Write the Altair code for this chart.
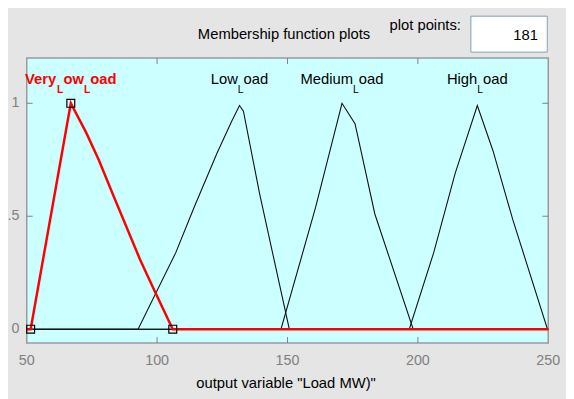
import altair as alt
import pandas as pd

# ---------------- data ----------------
mf_names = ["Very_Low_Load", "Low_Load", "Medium_Load", "High_Load"]

vl_x = [50, 51.5, 66.9, 72.8, 77.6, 83.3, 93.4, 99.0, 106, 250]
vl_y = [0, 0, 1.0, 0.87, 0.75, 0.59, 0.31, 0.17, 0, 0]

low_x = [50, 92.7, 107.2, 114.2, 123.0, 128.6, 131.6, 133.1, 139.3, 150.7, 250]
low_y = [0, 0, 0.34, 0.54, 0.78, 0.92, 0.99, 0.965, 0.60, 0, 0]

med_x = [50, 147.5, 160.8, 170.9, 175.9, 183.5, 198.2, 250]
med_y = [0, 0, 0.54, 1.0, 0.91, 0.51, 0, 0]

high_x = [50, 196.7, 206.1, 214.3, 222.8, 228.8, 236.4, 249.7, 250]
high_y = [0, 0, 0.34, 0.69, 0.99, 0.79, 0.485, 0, 0]

param_x = [51.5, 66.9, 106]
param_y = [0, 1, 0]

label_x = [66.9, 131.6, 170.9, 222.8]
label_y = 1.087

x_ticks = [50, 100, 150, 200, 250]
x_tick_labels = ["50", "100", "150", "200", "250"]
x_inner_ticks = [100, 150, 200]
y_ticks = [0, 0.5, 1]
y_tick_labels = ["0", ".5", "1"]

header_title = "Membership function plots"
plot_points_label = "plot points:"
plot_points_value = "181"
x_title = 'output variable "Load MW)"'

# ---------------- styling ----------------
FONT = "Liberation Sans, Arial, sans-serif"
BG = "#e5e5e5"
PLOT_BG = "#ccffff"
GRAY = "#808080"
W, H = 529, 289

xs = alt.Scale(domain=[50, 250], nice=False, zero=False)
ys = alt.Scale(domain=[-0.061, 1.2], nice=False, zero=False)
X = lambda: alt.X("x:Q", scale=xs, axis=None)
Y = lambda: alt.Y("y:Q", scale=ys, axis=None)

rows = []
for name, xx, yy in [("Low_Load", low_x, low_y), ("Medium_Load", med_x, med_y),
                     ("High_Load", high_x, high_y), ("Very_Low_Load", vl_x, vl_y)]:
    for i, (a, b) in enumerate(zip(xx, yy)):
        rows.append({"mf": name, "i": i, "x": a, "y": b})
df = pd.DataFrame(rows)

black_lines = alt.Chart(df[df.mf != "Very_Low_Load"]).mark_line(
    color="#111111", strokeWidth=1.1
).encode(x=X(), y=Y(), detail="mf:N", order="i:Q")

red_line = alt.Chart(df[df.mf == "Very_Low_Load"]).mark_line(
    color="#ff0000", strokeWidth=2.5
).encode(x=X(), y=Y(), order="i:Q")

params = alt.Chart(pd.DataFrame({"x": param_x, "y": param_y})).mark_point(
    shape="square", filled=False, size=64, color="#000000", strokeWidth=1.2, opacity=1
).encode(x=X(), y=Y())

# inner tick marks
xt = pd.DataFrame({"x": x_inner_ticks})
yt = pd.DataFrame({"y": y_ticks})
tick_layers = [
    alt.Chart(xt).mark_rule(color=GRAY).encode(x=X(), y=alt.value(0), y2=alt.value(6)),
    alt.Chart(xt).mark_rule(color=GRAY).encode(x=X(), y=alt.value(H), y2=alt.value(H - 6)),
    alt.Chart(yt).mark_rule(color=GRAY).encode(y=Y(), x=alt.value(0), x2=alt.value(6)),
    alt.Chart(yt).mark_rule(color=GRAY).encode(y=Y(), x=alt.value(W), x2=alt.value(W - 6)),
]

# tick labels
x_lab = alt.Chart(pd.DataFrame({"x": x_ticks, "t": x_tick_labels})).mark_text(
    font=FONT, fontSize=14.5, color=GRAY, align="center", baseline="middle"
).encode(x=X(), y=alt.value(H + 18), text="t:N")
y_lab = alt.Chart(pd.DataFrame({"y": y_ticks, "t": y_tick_labels})).mark_text(
    font=FONT, fontSize=14.5, color=GRAY, align="right", baseline="middle"
).encode(y=Y(), x=alt.value(-7.5), text="t:N")
x_tit = alt.Chart(pd.DataFrame({"t": [x_title]})).mark_text(
    font=FONT, fontSize=15, color="#000000", align="center", baseline="middle"
).encode(x=alt.value(263), y=alt.value(H + 41), text="t:N")

# ---------------- function labels with TeX-like subscripts ----------------
REG = {"V": .667, "e": .556, "r": .333, "y": .5, "L": .556, "o": .556, "w": .722, "a": .556,
       "d": .556, "M": .833, "i": .222, "u": .556, "m": .833, "H": .722, "g": .556, "h": .556}
BOLD = {"V": .667, "e": .556, "r": .389, "y": .556, "L": .611, "o": .611, "w": .778, "a": .556,
        "d": .611}
MAIN_SIZE, SUB_SIZE = 15, 10.5


def text_w(s, size, bold):
    tab = BOLD if bold else REG
    return sum(tab.get(c, .556) for c in s) * size


label_layers = []
for k, name in enumerate(mf_names):
    bold = k == 0
    color = "#ff0000" if k == 0 else "#000000"
    parts = name.split("_")
    pieces = [(parts[0], False)]
    for p in parts[1:]:
        pieces.append((p[0], True))
        pieces.append((p[1:], False))
    widths = [text_w(s, SUB_SIZE if sub else MAIN_SIZE, bold) for s, sub in pieces]
    cur = -sum(widths) / 2
    for (s, sub), w in zip(pieces, widths):
        label_layers.append(
            alt.Chart(pd.DataFrame({"x": [label_x[k]], "y": [label_y], "t": [s]})).mark_text(
                align="left", baseline="alphabetic", dx=cur, dy=10 if sub else 0,
                font=FONT, fontSize=SUB_SIZE if sub else MAIN_SIZE,
                fontWeight="bold" if bold else "normal", color=color
            ).encode(x=X(), y=Y(), text="t:N")
        )
        cur += w

# ---------------- header ----------------
header = alt.Chart(pd.DataFrame({"t": [header_title]})).mark_text(
    font=FONT, fontSize=15, color="#000000", align="center", baseline="middle"
).encode(x=alt.value(261), y=alt.value(-24), text="t:N")

pp = alt.Chart(pd.DataFrame({"t": [plot_points_label]})).mark_text(
    font=FONT, fontSize=15, color="#000000", align="left", baseline="middle"
).encode(x=alt.value(368), y=alt.value(-33), text="t:N")

box = alt.Chart(pd.DataFrame({"t": [plot_points_value]})).mark_rect(
    fill="#ffffff", stroke="#7f9db9", strokeWidth=1
).encode(x=alt.value(450.5), x2=alt.value(528), y=alt.value(-42.5), y2=alt.value(-6))

ppv = alt.Chart(pd.DataFrame({"t": [plot_points_value]})).mark_text(
    font=FONT, fontSize=15, color="#000000", align="right", baseline="middle"
).encode(x=alt.value(518.5), y=alt.value(-23), text="t:N")

chart = alt.layer(
    black_lines, *tick_layers, red_line, params, x_lab, y_lab, x_tit,
    *label_layers, header, pp, box, ppv
).properties(
    width=W, height=H,
    padding={"left": 19, "top": 48, "right": 18, "bottom": 54},
    autosize=alt.AutoSizeParams(type="none"),
    background=BG,
).configure_view(
    fill=PLOT_BG, stroke="#9a9a9a", strokeWidth=1.5
)

chart.save("out.html", embed_options={"renderer": "svg", "actions": False})
